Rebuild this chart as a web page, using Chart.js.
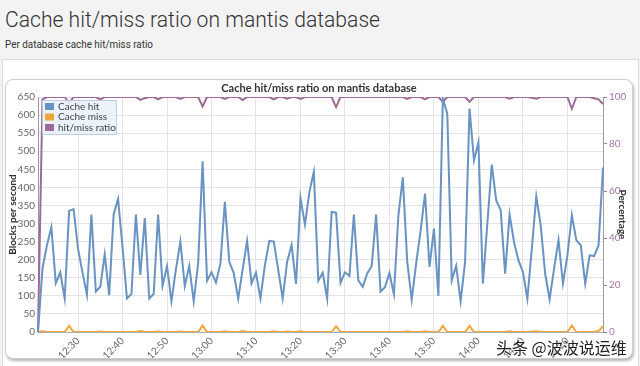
<!DOCTYPE html>
<html>
<head>
<meta charset="utf-8">
<script src="https://cdn.jsdelivr.net/npm/chart.js@4.4.0/dist/chart.umd.min.js"></script>
<style>
  html, body { margin: 0; padding: 0; }
  body { width: 640px; height: 366px; background: #f3f3f3; position: relative; overflow: hidden;
         font-family: Roboto, 'Liberation Sans', sans-serif; }
  #title { position: absolute; left: 5px; top: 9px; font-size: 22px; line-height: 22px; font-weight: 300;
           color: #333; white-space: nowrap; transform-origin: 0 0; }
  #subtitle { position: absolute; left: 5px; top: 39px; font-size: 11px; line-height: 12px; color: #333;
              white-space: nowrap; transform-origin: 0 0; }
  #panel { position: absolute; left: 2px; top: 59px; width: 635px; height: 320px; background: #fff;
           border: 1px solid #dcdcdc; }
  #box { position: absolute; left: 5px; top: 79px; width: 626px; height: 278px; background: #fff;
         border: 1px solid #cfcfcf; border-radius: 8px; box-shadow: 1px 2px 3px rgba(0,0,0,0.3); }
  #box canvas { position: absolute; left: 0; top: 0; }
  #mark { position: absolute; left: 496px; top: 335px; font-family: 'Noto Sans CJK SC'; font-size: 16px;
          color: #222; white-space: nowrap; text-shadow: 0 0 2px #fff, 0 0 2px #fff; }
</style>
</head>
<body>
<div id="title">Cache hit/miss ratio on mantis database</div>
<div id="subtitle">Per database cache hit/miss ratio</div>
<div id="panel"></div>
<div id="box"><canvas id="chart" width="626" height="278"></canvas></div>
<div id="mark">头条 @波波说运维</div>

<script>
// one sample per minute
const times = [
  '12:21','12:22','12:23','12:24','12:25','12:26','12:27','12:28','12:29','12:30','12:31','12:32','12:33','12:34','12:35','12:36',
  '12:37','12:38','12:39','12:40','12:41','12:42','12:43','12:44','12:45','12:46','12:47','12:48','12:49','12:50','12:51','12:52',
  '12:53','12:54','12:55','12:56','12:57','12:58','12:59','13:00','13:01','13:02','13:03','13:04','13:05','13:06','13:07','13:08',
  '13:09','13:10','13:11','13:12','13:13','13:14','13:15','13:16','13:17','13:18','13:19','13:20','13:21','13:22','13:23','13:24',
  '13:25','13:26','13:27','13:28','13:29','13:30','13:31','13:32','13:33','13:34','13:35','13:36','13:37','13:38','13:39','13:40',
  '13:41','13:42','13:43','13:44','13:45','13:46','13:47','13:48','13:49','13:50','13:51','13:52','13:53','13:54','13:55','13:56',
  '13:57','13:58','13:59','14:00','14:01','14:02','14:03','14:04','14:05','14:06','14:07','14:08','14:09','14:10','14:11','14:12',
  '14:13','14:14','14:15','14:16','14:17','14:18','14:19','14:20','14:21','14:22','14:23','14:24','14:25','14:26','14:27','14:28'
]

// blocks per second
const cacheHit = [
  0, 175, 240, 290, 135, 165, 93, 335, 340, 230, 165, 103, 325, 112, 125, 215,
  102, 325, 368, 235, 93, 105, 325, 158, 315, 93, 105, 325, 128, 182, 85, 173,
  250, 127, 183, 85, 190, 472, 142, 165, 137, 189, 360, 194, 163, 92, 173, 252,
  135, 164, 93, 185, 252, 250, 172, 93, 194, 241, 133, 371, 297, 387, 443, 142,
  164, 92, 332, 330, 136, 165, 155, 325, 143, 125, 162, 182, 325, 112, 124, 163,
  104, 321, 428, 194, 89, 190, 280, 383, 180, 286, 100, 645, 604, 143, 183, 85,
  194, 618, 475, 524, 134, 300, 463, 364, 337, 161, 325, 249, 198, 166, 92, 230,
  375, 295, 161, 90, 175, 254, 134, 212, 323, 254, 240, 134, 212, 210, 240, 455
]

const cacheMiss = [
  0, 2, 0, 0, 0, 0, 0, 17, 0, 0, 0, 0, 0, 0, 1.5, 0,
  0, 0, 0, 0, 0, 0, 0, 2.5, 1, 0, 0, 1.5, 0, 0, 0, 0,
  1.5, 0, 0, 0, 0, 18, 0, 0, 0, 0, 2, 0, 0, 0, 2.5, 0,
  0, 0, 0, 0, 0, 2, 0, 0, 1.5, 0, 0, 2, 0, 0, 0, 0,
  0, 0, 0, 16, 0, 0, 0, 0, 0, 0, 0, 0, 0, 0, 0, 0,
  0, 0, 0, 2, 0, 0, 0, 2, 0, 0, 0, 17, 0, 0, 0, 0,
  0, 17, 0, 0, 0, 0, 0, 0, 0, 0, 2, 0, 0, 0, 0, 1,
  2, 0, 0, 0, 0, 0, 0, 0, 18, 0, 0, 0, 0, 1, 2.5, 16
]

// percentage
const hitRatio = [
  0, 99, 100, 100, 100, 100, 100, 97.4, 100, 100, 100, 100, 100, 100, 99, 100,
  100, 100, 100, 100, 100, 100, 100, 98.8, 99.5, 100, 100, 99, 100, 100, 100, 100,
  99.2, 100, 100, 100, 100, 96, 100, 100, 100, 100, 99.2, 100, 100, 100, 98.7, 100,
  100, 100, 100, 100, 100, 99, 100, 100, 99.3, 100, 100, 99.2, 100, 100, 100, 100,
  100, 100, 100, 95.7, 100, 100, 100, 100, 100, 100, 100, 100, 100, 100, 100, 100,
  100, 100, 100, 99.2, 100, 100, 100, 99, 100, 100, 100, 98, 100, 100, 100, 100,
  100, 98, 100, 100, 100, 100, 100, 100, 100, 100, 99.3, 100, 100, 100, 100, 99.7,
  99.3, 100, 100, 100, 100, 100, 100, 100, 95, 100, 100, 100, 100, 99.5, 99, 97
]

const blocksTicks = { min: 0, max: 650, step: 50 }
const percentTicks = { min: 0, max: 100, step: 20 }

function fitWidth(el, w) {
  el.style.transform = 'scaleX(' + (w / el.getBoundingClientRect().width) + ')'
}
fitWidth(document.getElementById('title'), 375)
fitWidth(document.getElementById('subtitle'), 148)

Chart.defaults.font.family = "Lato, 'Open Sans', sans-serif"
Chart.defaults.color = '#666'

// legend drawn inside the plot, top-left
const innerLegend = {
  id: 'innerLegend',
  afterDraw(chart) {
    const ctx = chart.ctx
    const area = chart.chartArea
    const x = area.left + 4
    const y = area.top + 3
    ctx.save()
    ctx.fillStyle = 'rgba(232,240,250,0.88)'
    ctx.strokeStyle = 'rgba(190,202,218,0.9)'
    ctx.lineWidth = 1
    ctx.fillRect(x + 0.5, y + 0.5, 74, 34)
    ctx.strokeRect(x + 0.5, y + 0.5, 74, 34)
    ctx.font = "10px Lato, 'Open Sans', sans-serif"
    ctx.textBaseline = 'middle'
    chart.data.datasets.forEach((ds, i) => {
      const cy = y + 6.5 + i * 10.5
      ctx.fillStyle = ds.borderColor
      ctx.fillRect(x + 3, cy - 3.5, 9, 7)
      ctx.fillStyle = '#444'
      ctx.fillText(ds.label, x + 16, cy)
    })
    ctx.restore()
  }
}

new Chart(document.getElementById('chart'), {
  type: 'line',
  data: {
    labels: times,
    datasets: [
      { label: 'Cache hit', data: cacheHit, borderColor: '#6893c2', yAxisID: 'y' },
      { label: 'Cache miss', data: cacheMiss, borderColor: '#f0a63a', yAxisID: 'y' },
      { label: 'hit/miss ratio', data: hitRatio, borderColor: '#9d6b99', yAxisID: 'y1' }
    ]
  },
  options: {
    responsive: false,
    animation: false,
    devicePixelRatio: 1,
    elements: {
      line: { borderWidth: 2, tension: 0, fill: false },
      point: { radius: 0 }
    },
    layout: { padding: 0 },
    plugins: {
      legend: { display: false },
      tooltip: { enabled: false },
      title: {
        display: true,
        text: 'Cache hit/miss ratio on mantis database',
        color: '#333',
        font: { size: 11, weight: 'bold' },
        padding: { top: 1.5, bottom: 2.3 }
      }
    },
    scales: {
      x: {
        grid: { color: '#e4e4e4', drawTicks: false },
        border: { color: '#b0b0b0' },
        ticks: {
          autoSkip: false, minRotation: 45, maxRotation: 45, padding: 3,
          font: { size: 10 }, color: '#666',
          callback: function (v) {
            const t = this.getLabelForValue(v)
            return t.endsWith('0') ? t : null
          }
        },
        afterFit: s => { s.height = 26 }
      },
      y: {
        position: 'left',
        min: blocksTicks.min, max: blocksTicks.max,
        ticks: { stepSize: blocksTicks.step, padding: 3, font: { size: 10 }, color: '#666' },
        grid: { color: '#e4e4e4', drawTicks: false },
        border: { color: '#9a9a9a' },
        title: {
          display: true, text: 'Blocks per second', color: '#333',
          font: { size: 10, weight: 'bold' }, padding: { top: 1, bottom: 0 }
        },
        afterFit: s => { s.width = 32 }
      },
      y1: {
        position: 'right',
        min: percentTicks.min, max: percentTicks.max,
        ticks: { stepSize: percentTicks.step, padding: 2, font: { size: 10 }, color: '#a678a6' },
        grid: { drawOnChartArea: false, tickLength: 4, tickColor: '#a678a6' },
        border: { color: '#a0a0a0' },
        title: {
          display: true, text: 'Percentage', color: '#333',
          font: { size: 10, weight: 'bold' }, padding: { top: 4, bottom: 0 }
        },
        afterFit: s => { s.width = 29 }
      }
    }
  },
  plugins: [innerLegend]
})
</script>
</body>
</html>
